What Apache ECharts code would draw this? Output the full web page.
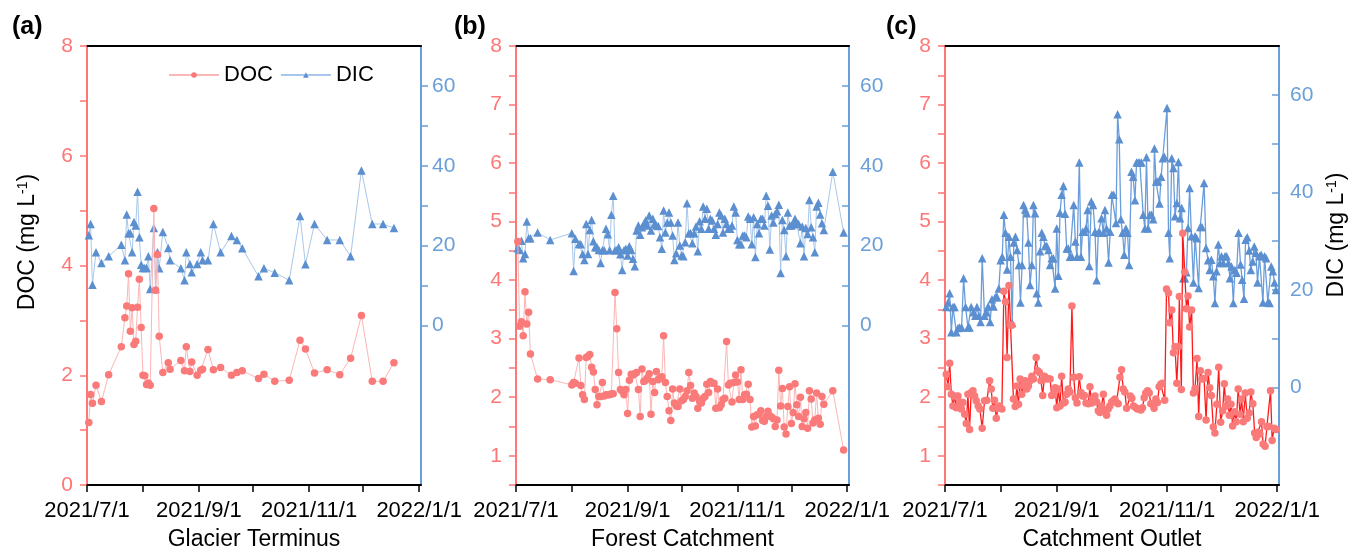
<!DOCTYPE html>
<html>
<head>
<meta charset="utf-8">
<script src="https://cdn.jsdelivr.net/npm/echarts@6/dist/echarts.min.js"></script>
<style>html,body{margin:0;padding:0;background:#fff;}#chart{width:1349px;height:549px;}</style>
</head>
<body>
<div id="chart"></div>
<script>
// x values: days since 2021-07-01
const panelNames = ['Glacier Terminus', 'Forest Catchment', 'Catchment Outlet'];
const panelLetters = ['(a)', '(b)', '(c)'];
const xLabelDays = [0, 62, 123, 184];
const xTickDays = [0, 31, 62, 92, 123, 153, 184];
const dicTicks = [0, 10, 20, 30, 40, 50, 60];
const dicLabels = [0, 20, 40, 60];

// (a) Glacier Terminus
const daysA = [1,2,3,5,8,12,19,21,22,23,24,25,26,27,28,29,30,31,32,33,34,35,37,38,39,40,42,45,46,52,54,55,57,58,61,63,64,67,70,74,80,83,86,95,98,104,112,118,121,126,133,140,146,152,158,164,170];
const docA = [1.14,1.65,1.49,1.82,1.52,2.01,2.52,3.05,3.26,3.85,2.80,3.23,2.56,2.62,3.24,3.75,2.87,2.00,1.99,1.83,1.86,1.82,5.04,3.55,4.20,2.71,2.05,2.23,2.11,2.27,2.08,2.52,2.07,2.24,2.00,2.09,2.11,2.47,2.10,2.14,2.00,2.05,2.08,1.94,2.02,1.89,1.91,2.64,2.48,2.04,2.10,2.01,2.31,3.09,1.89,1.89,2.23];
const dicA = [22.6,25.4,10.2,18.3,15.6,17.3,20.2,16.3,27.8,23.1,23.1,18.3,25.9,25.0,33.5,22.1,15.2,14.4,14.4,14.4,17.3,9.1,24.4,9.1,18.3,14.3,23.4,19.4,16.3,14.3,11.3,18.3,15.4,13.3,15.4,18.3,16.3,16.3,25.4,18.3,22.4,21.4,19.3,12.3,14.3,13.2,11.3,27.4,15.3,25.4,21.4,21.4,17.3,38.8,25.4,25.4,24.4];

// (b) Forest Catchment
const daysB = [1,2,3,4,5,6,7,8,12,19,31,32,33,
35,36,37,38,39,40,41,42,43,44,45,46,47,48,49,50,51,52,53,54,55,56,57,58,59,60,61,62,63,64,65,66,67,68,69,70,71,72,73,74,75,76,77,78,79,80,81,82,83,84,85,86,87,88,89,90,91,92,
93,94,95,96,97,98,99,100,101,102,103,104,105,106,107,108,109,110,111,112,113,114,115,116,117,118,119,120,121,122,123,124,125,126,127,128,129,130,131,132,133,134,135,136,137,138,139,140,141,142,143,144,145,146,147,148,149,150,151,152,153,154,155,156,157,158,159,160,161,162,163,164,165,166,167,168,169,170,171,176,182];
const docB = [4.66,3.21,3.29,3.05,3.80,3.25,3.45,2.74,2.31,2.30,2.21,2.25,2.24,
2.67,2.20,2.04,1.96,2.68,2.70,2.73,2.51,2.43,2.13,1.87,2.01,2.01,2.25,2.02,2.04,2.04,2.04,2.06,2.06,3.79,3.17,2.42,2.13,2.10,2.04,2.13,1.72,2.29,2.39,2.38,2.40,2.42,2.13,1.67,2.48,2.27,2.29,2.33,2.40,1.71,2.27,2.08,2.44,2.30,2.33,2.35,3.05,2.25,2.01,1.77,1.60,2.14,1.90,1.85,1.84,2.14,1.94,
1.96,2.01,2.11,2.42,2.20,1.98,2.07,2.01,1.81,1.93,1.90,1.98,2.01,2.22,2.08,2.27,2.24,2.24,1.81,2.14,1.82,1.87,1.96,1.98,2.95,2.21,2.24,1.92,2.25,2.38,2.26,1.96,2.47,1.96,2.04,2.05,2.22,1.96,1.49,1.67,1.51,1.70,1.71,1.77,1.60,1.59,1.67,1.76,1.68,1.66,1.63,1.50,1.61,2.46,1.85,2.15,1.49,1.37,1.84,2.18,1.55,1.74,2.23,1.87,1.67,2.00,1.50,1.63,1.74,1.47,2.11,1.97,1.56,1.61,2.07,1.64,1.54,2.01,1.88,2.11,1.10];
const dicB = [19.3,18.9,21.2,16.8,17.9,26.0,21.8,21.8,23.3,21.4,23.1,13.6,21.7,
20.4,20.3,17.9,16.4,25.4,17.9,23.9,26.4,21.1,19.6,19.6,18.9,15.6,18.8,18.8,24.2,22.8,18.8,27.7,32.5,18.8,18.8,19.6,17.8,13.9,18.8,19.2,17.5,19.8,18.9,16.7,14.8,23.8,25.0,22.7,24.6,25.4,26.3,25.0,27.5,23.8,26.7,25.4,25.0,24.9,22.1,19.2,28.8,23.3,25.8,28.3,25.8,22.5,16.4,18.1,25.8,20.0,17.5,
17.3,20.8,30.6,23.1,23.1,20.6,23.1,24.8,18.6,26.1,24.2,29.8,26.7,29.2,24.2,26.7,26.3,24.2,22.7,25.4,28.3,27.5,23.3,26.7,25.4,24.2,24.2,25.0,29.8,28.3,21.4,20.3,20.3,22.5,22.5,22.1,27.3,26.7,20.3,27.1,17.1,25.4,23.1,26.7,26.7,25.0,32.5,30.0,19.0,27.5,25.8,27.9,28.6,30.2,13.1,26.4,23.9,17.3,28.3,25.0,25.0,25.4,26.7,25.4,25.4,20.6,24.8,17.3,24.4,22.9,31.4,24.6,22.1,18.3,29.8,30.7,27.8,25.6,23.9,38.5,23.3];

// (c) Catchment Outlet
const daysC_doc = [0.7,1.7,2.6,3.5,4.4,5.3,6.3,7.2,8.1,9.0,9.9,10.9,11.8,12.7,13.6,14.5,15.5,16.4,17.3,18.4,19.3,20.6,21.9,23.2,24.7,25.6,26.5,27.4,28.4,29.3,30.2,31.5,32.6,33.5,34.4,35.4,36.3,37.0,37.9,38.9,39.8,40.7,41.6,42.5,43.5,44.4,45.3,46.2,47.1,48.1,49.0,50.5,51.4,52.3,53.2,54.1,55.1,56.0,56.9,58.2,59.1,60.0,61.0,61.9,62.8,63.7,64.6,65.6,66.5,67.4,68.3,69.2,70.3,71.3,72.2,73.1,74.4,75.3,76.2,77.2,78.1,79.4,80.3,81.2,82.1,83.1,84.0,84.9,85.8,86.7,87.7,88.6,89.5,90.4,91.3,92.3,93.2,94.1,95.0,95.9,96.9,97.8,98.7,99.6,100.6,
102.6,103.5,104.4,105.7,106.6,107.6,108.5,109.4,110.3,111.2,112.2,113.1,114.0,114.9,115.8,116.8,117.7,118.6,119.5,120.4,121.7,122.7,123.8,124.5,125.6,126.5,127.4,128.4,129.3,129.8,130.9,131.7,132.8,133.7,134.6,135.5,136.6,137.6,138.5,139.6,140.5,141.4,142.3,143.5,144.6,145.7,146.6,147.5,148.6,149.5,150.6,151.6,152.7,153.8,154.7,155.6,156.5,157.5,158.4,159.3,160.4,161.3,162.4,163.4,164.3,165.2,166.3,167.4,168.5,169.4,170.5,171.5,172.4,173.3,174.4,175.3,176.2,177.3,178.3,179.4,180.3,181.2,182.3,183.5];
const docC = [2.39,2.18,2.58,2.05,1.85,2.02,1.82,2.02,1.92,1.80,1.91,1.71,1.55,2.05,1.45,2.08,2.11,2.02,1.94,1.85,1.80,1.47,1.94,1.95,2.28,2.14,1.81,1.95,1.64,1.81,1.85,1.80,3.81,3.63,2.68,3.91,3.23,3.23,1.97,1.84,2.19,1.88,2.31,2.05,2.20,2.28,2.14,2.19,2.28,2.36,2.31,2.68,2.45,2.42,2.28,2.03,2.36,2.31,2.32,2.31,2.03,2.05,2.16,1.82,2.14,1.85,2.36,1.90,1.92,2.05,2.14,2.09,3.56,2.34,1.99,1.90,2.35,2.08,2.02,2.03,1.90,1.89,2.18,1.90,1.97,2.02,1.92,1.77,1.74,1.85,2.05,1.75,1.69,1.80,1.85,1.92,1.94,1.97,1.91,1.89,2.34,2.47,2.14,2.09,1.81,
2.02,1.98,1.85,1.82,1.80,1.80,1.78,1.82,1.99,2.07,2.11,2.07,1.89,1.88,1.81,1.97,1.91,2.18,2.22,2.24,1.95,3.85,3.78,3.27,3.49,2.76,2.86,2.24,2.86,3.72,2.13,4.80,4.14,3.51,3.73,3.20,3.49,2.07,2.15,2.66,1.67,2.45,2.31,2.32,1.61,2.42,2.16,2.03,1.49,1.39,1.88,2.51,1.57,1.77,2.23,1.85,1.97,1.69,1.88,1.51,1.75,1.58,2.14,1.71,1.97,1.58,2.07,1.64,1.73,2.09,1.89,1.39,1.31,1.40,1.37,1.58,1.20,1.16,1.50,1.50,2.11,1.26,1.47,1.45];
const daysC_dic = [0.7,1.7,2.6,3.5,4.4,5.3,6.3,7.2,8.1,9.2,10.3,11.4,12.7,13.6,14.5,15.8,16.8,17.7,18.8,19.7,20.6,21.9,22.8,23.9,25.0,26.0,26.9,27.8,28.9,29.8,30.8,31.7,32.6,33.5,34.4,35.4,36.3,37.2,38.1,39.0,40.0,40.9,41.8,42.7,43.5,44.4,45.3,46.2,47.1,48.1,49.0,49.9,50.8,51.7,52.7,53.6,54.5,55.4,56.4,57.3,58.2,59.1,60.0,61.0,61.9,62.8,63.7,64.6,65.6,66.5,67.4,68.3,69.2,70.3,71.3,72.2,73.1,74.4,75.3,76.2,77.2,78.1,79.0,79.9,81.0,82.0,83.1,84.0,84.9,85.8,86.7,87.7,88.6,89.5,90.6,91.5,92.4,93.4,94.7,95.6,96.5,97.4,98.3,99.3,100.2,101.1,102.0,103.3,104.2,105.2,106.1,107.0,107.9,108.8,109.8,110.7,111.6,112.5,113.4,114.4,115.3,116.0,116.9,117.9,118.8,119.7,120.6,121.5,
123.0,123.8,124.5,125.6,126.5,127.4,128.4,129.3,130.2,131.1,132.0,132.9,133.7,134.6,135.5,136.5,137.6,138.5,139.4,140.5,141.4,142.3,143.5,144.6,145.7,146.6,147.5,148.6,149.5,150.4,151.4,152.3,153.2,154.2,155.1,156.0,157.0,157.8,158.7,159.7,160.6,161.5,162.6,163.7,164.6,165.6,166.5,167.4,168.5,169.4,170.4,171.3,172.2,173.1,174.2,175.1,176.1,177.0,177.9,178.8,179.8,180.7,181.6,182.5,183.3];
const dicC = [16.5,17.4,19.3,11.3,16.5,16.5,11.3,12.2,12.3,12.3,22.4,16.5,12.3,12.3,16.5,15.4,14.7,16.5,14.7,13.4,26.5,14.7,15.4,16.6,13.4,18.1,16.6,18.5,18.5,20.3,26.1,26.8,35.4,31.7,24.2,30.9,26.8,13.2,29.7,30.9,28.2,25.1,17.4,25.1,37.4,36.5,35.7,29.7,21.0,25.1,37.4,35.7,19.3,17.4,27.9,31.7,30.9,29.0,29.0,28.2,25.1,26.5,26.5,20.3,32.6,22.9,35.8,39.5,41.3,35.6,28.5,28.5,26.8,26.8,37.4,29.9,26.8,46.1,26.8,31.9,31.9,32.6,36.4,24.9,38.1,37.4,31.9,22.0,31.7,31.7,34.7,31.7,36.4,32.6,25.6,31.9,39.5,39.5,33.7,56.0,50.9,34.5,31.7,27.2,32.6,31.7,25.1,44.2,43.2,38.4,46.1,46.1,46.1,46.1,35.4,32.6,47.2,32.6,35.4,35.4,34.5,49.0,42.2,42.2,37.7,43.2,47.0,47.3,
57.3,31.7,26.5,47.0,45.0,35.1,37.8,46.2,34.7,36.8,22.4,22.4,23.6,32.7,40.9,31.0,21.5,31.0,30.6,20.4,32.9,32.9,41.9,28.6,26.1,24.1,26.2,22.8,17.3,23.8,29.3,25.5,26.9,25.5,26.9,26.9,25.5,22.4,24.8,17.3,24.1,23.5,31.7,25.2,22.1,18.2,30.3,30.8,28.1,24.1,25.8,28.9,27.6,21.5,26.9,27.2,17.4,26.9,26.5,17.4,17.3,24.8,23.8,21.5,20.0];

const FONT = 'Liberation Sans, Arial, sans-serif';
const RED_AX = '#FF7676';
const BLUE_AX = '#6A9FD8';
const DOC_MARK = '#FA7A7A';
const DIC_MARK = '#5B8FD0';
const DOC_LINE = ['#FBB6B6', '#FBB6B6', '#FF1A1A'];
const DIC_LINE = ['#A9C7EA', '#A9C7EA', '#6A9DDB'];

function dayLabel(v) {
  const d = new Date(Date.UTC(2021, 6, 1) + Math.round(v) * 86400000);
  return d.getUTCFullYear() + '/' + (d.getUTCMonth() + 1) + '/' + d.getUTCDate();
}
function pairs(xs, ys) { return xs.map((x, i) => [x, ys[i]]); }

const grids = [
  {left: 87, top: 46, width: 334, height: 439, outerBoundsMode: 'none', containLabel: false},
  {left: 516, top: 46, width: 333, height: 439, outerBoundsMode: 'none', containLabel: false},
  {left: 945, top: 46, width: 334, height: 439, outerBoundsMode: 'none', containLabel: false}
];
const docMin = [0, 0.5, 0.5];
const docInterval = [1, 0.5, 0.5];
const dicMin = [-40, -40, -20];

const xAxis = [], yAxis = [];
for (let i = 0; i < 3; i++) {
  xAxis.push({
    type: 'value', gridIndex: i, min: 0, max: 185,
    axisLine: {onZero: false, lineStyle: {color: '#000', width: 2}},
    axisTick: {customValues: xTickDays, length: 7, lineStyle: {color: '#000', width: 1.5}},
    axisLabel: {customValues: xLabelDays, formatter: dayLabel, fontSize: 22, color: '#000', margin: 15, fontFamily: FONT},
    splitLine: {show: false},
    name: panelNames[i], nameLocation: 'middle', nameGap: 43,
    nameTextStyle: {fontSize: 23, color: '#000', fontFamily: FONT}
  });
}
for (let i = 0; i < 3; i++) {
  xAxis.push({
    type: 'value', gridIndex: i, position: 'top', min: 0, max: 185,
    axisLine: {show: true, onZero: false, lineStyle: {color: '#000', width: 2}},
    axisTick: {show: false}, axisLabel: {show: false}, splitLine: {show: false}
  });
}
for (let i = 0; i < 3; i++) {
  const iv = docInterval[i];
  yAxis.push({
    type: 'value', gridIndex: i, position: 'left', min: docMin[i], max: 8, interval: iv,
    axisLine: {show: true, onZero: false, lineStyle: {color: RED_AX, width: 2}},
    axisTick: {show: true, length: 7, lineStyle: {color: RED_AX, width: 1.5}},
    axisLabel: {
      color: RED_AX, fontSize: 21, margin: 14, fontFamily: FONT,
      formatter: function (v) {
        if (i === 0) return (Math.round(v) % 2 === 0) ? String(Math.round(v)) : '';
        return Math.abs(v - Math.round(v)) < 1e-6 ? String(Math.round(v)) : '';
      }
    },
    splitLine: {show: false}
  });
  yAxis.push({
    type: 'value', gridIndex: i, position: 'right', min: dicMin[i], max: 70,
    axisLine: {show: true, onZero: false, lineStyle: {color: BLUE_AX, width: 2}},
    axisTick: {show: true, customValues: dicTicks, inside: i > 0, length: 7, lineStyle: {color: BLUE_AX, width: 1.5}},
    axisLabel: {customValues: dicLabels, color: BLUE_AX, fontSize: 21, margin: 11, fontFamily: FONT},
    splitLine: {show: false}
  });
}

const panels = [
  {docX: daysA, doc: docA, dicX: daysA, dic: dicA},
  {docX: daysB, doc: docB, dicX: daysB, dic: dicB},
  {docX: daysC_doc, doc: docC, dicX: daysC_dic, dic: dicC}
];
const series = [];
panels.forEach((p, i) => {
  series.push({
    name: 'DOC', type: 'line', xAxisIndex: i, yAxisIndex: 2 * i,
    data: pairs(p.docX, p.doc), symbol: 'circle', symbolSize: 7.5, z: 3,
    itemStyle: {color: DOC_MARK}, lineStyle: {color: DOC_LINE[i], width: i === 2 ? 1.3 : 1}
  });
  series.push({
    name: 'DIC', type: 'line', xAxisIndex: i, yAxisIndex: 2 * i + 1,
    data: pairs(p.dicX, p.dic), symbol: 'triangle', symbolSize: 8.5, z: 2,
    itemStyle: {color: DIC_MARK}, lineStyle: {color: DIC_LINE[i], width: i === 2 ? 1.3 : 1}
  });
});

const graphic = [];
const letterX = [12, 454, 886];
panelLetters.forEach((t, i) => {
  graphic.push({type: 'text', left: letterX[i], top: 15,
    style: {text: t, fontSize: 25, fontWeight: 'bold', fontFamily: FONT, fill: '#000'}});
});
graphic.push({type: 'text', x: 28, y: 242, rotation: Math.PI / 2,
  style: {text: 'DOC (mg L{s|-1})', fontSize: 23, fontFamily: FONT, fill: '#000', align: 'center', verticalAlign: 'middle',
    rich: {s: {fontSize: 14, fontFamily: FONT, verticalAlign: 'top', fill: '#000'}}}});
graphic.push({type: 'text', x: 1337, y: 235, rotation: Math.PI / 2,
  style: {text: 'DIC (mg L{s|-1})', fontSize: 23, fontFamily: FONT, fill: '#000', align: 'center', verticalAlign: 'middle',
    rich: {s: {fontSize: 14, fontFamily: FONT, verticalAlign: 'top', fill: '#000'}}}});

const chart = echarts.init(document.getElementById('chart'));
chart.setOption({
  animation: false,
  backgroundColor: '#fff',
  textStyle: {fontFamily: FONT},
  grid: grids,
  xAxis: xAxis,
  yAxis: yAxis,
  legend: {data: ['DOC', 'DIC'], left: 163, top: 59, itemWidth: 50, itemHeight: 7, itemGap: 7,
    selectedMode: false, textStyle: {fontSize: 22, color: '#000', fontFamily: FONT}},
  series: series,
  graphic: graphic
});
</script>
</body>
</html>
